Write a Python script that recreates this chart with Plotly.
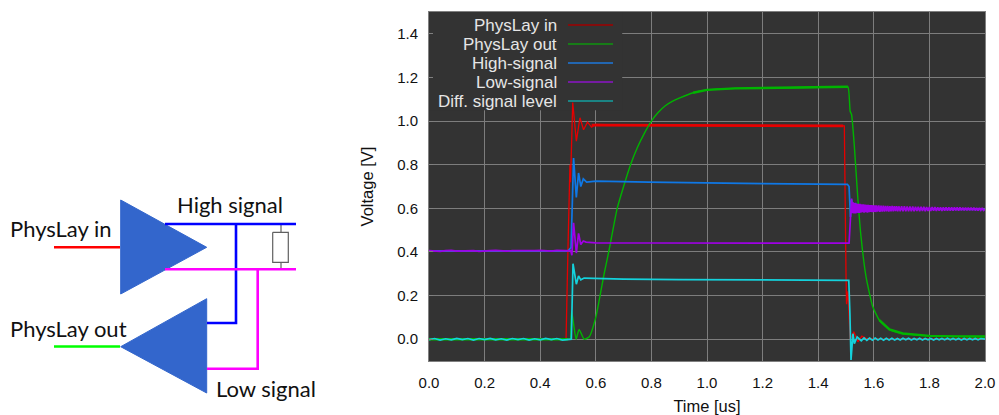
import plotly.graph_objects as go

W, H = 999, 415
PL, PR, PT, PB = 429, 985, 12, 361

# ---------- oscilloscope data (time in us, level in V) ----------
red_t = [0.0,0.1,0.2,0.3,0.4,0.49,0.493,0.50,0.505,0.507,0.509,0.512,0.517,0.53,0.543,0.556,0.57,0.585,
         0.6,0.7,0.8,0.9,1.0,1.1,1.2,1.3,1.4,1.49,1.494,1.50,1.502,1.507,1.515,1.528,1.543,1.557,1.575,1.62,1.8,2.0]
red_v = [0.0,0.0,0.0,0.0,0.0,0.0,0.0,0.42,0.72,0.80,0.72,0.85,1.085,0.908,1.015,0.96,0.995,0.972,
         0.985,0.981,0.98,0.98,0.98,0.979,0.979,0.979,0.978,0.978,0.978,0.30,0.16,0.22,0.0,0.034,-0.012,0.014,0.002,0.0,0.002,0.003]
red_band_t = [0.585,0.7,0.85,1.0,1.15,1.3,1.49]
red_band_v = [0.981,0.981,0.98,0.98,0.979,0.979,0.978]

green_t = [0.0,0.50,0.508,0.513,0.529,0.54,0.558,0.576,0.6,0.63,0.648,0.677,0.70,0.725,0.75,0.775,0.80,0.825,0.85,0.875,0.90,0.95,1.0,1.1,1.2,1.3,1.4,1.49,1.507,1.515,1.52,1.53,1.542,1.554,
           1.572,1.596,1.62,1.656,1.704,1.75,1.8,1.84,1.88,1.92,1.96,2.0]
green_v = [0.0,0.0,0.0,0.13,0.0,0.045,0.0,0.01,0.10,0.30,0.41,0.60,0.70,0.80,0.88,0.945,1.0,1.04,1.07,1.09,1.105,1.13,1.143,1.15,1.152,1.153,1.155,1.157,1.157,1.045,1.03,0.885,0.655,0.47,
           0.287,0.15,0.087,0.045,0.026,0.02,0.015,0.014,0.013,0.013,0.012,0.012]
green_flat_t = [0.0,0.25,0.50,None,0.95,1.0,1.1,1.2,1.3,1.4,1.507,None,1.62,1.656,1.704,1.75,1.8,1.9,2.0]
green_flat_v = [0.0,0.0,0.0,None,1.13,1.143,1.15,1.152,1.153,1.155,1.157,None,0.087,0.045,0.026,0.02,0.015,0.013,0.012]

blue_t = [0.0,0.25,0.50,0.511,0.52,0.53,0.538,0.546,0.555,0.567,0.6,0.79,1.0,1.2,1.4,1.505,1.511,1.516,1.52,1.527,1.534,1.541,1.548,1.555,1.562,1.57,1.58,1.6,1.7,1.8,2.0]
blue_v = [0.405,0.405,0.405,0.42,0.83,0.65,0.762,0.70,0.735,0.72,0.725,0.72,0.715,0.713,0.711,0.71,0.70,0.56,0.64,0.58,0.625,0.58,0.615,0.585,0.612,0.588,0.607,0.597,0.596,0.595,0.595]

purple_t = [0.0,0.02,0.04,0.06,0.08,0.10,0.12,0.14,0.16,0.18,0.20,0.22,0.24,0.26,0.28,0.30,0.32,0.34,0.36,0.38,0.40,0.42,0.44,0.46,0.48,0.51,0.514,0.52,0.53,0.538,0.546,0.555,0.565,0.6,0.8,1.0,1.2,1.4,1.508,1.511,1.52,
            1.523,1.526,1.529,1.532,1.535,1.538,1.541,1.544,1.547,1.55,1.553,1.556,1.559,1.562,1.565,1.568,1.571,1.574,1.577,1.58,1.583,1.586,1.589,1.592,1.595,1.598,1.601,1.604,1.607,1.61,1.614,1.618,1.622,1.626,1.63,1.634,1.638,1.642,1.646,1.65,1.654,1.658,1.662,1.666,1.67,1.674,1.678,1.682,1.686,1.69,1.695,1.70,1.705,1.71,1.715,1.72,1.725,1.73,1.735,1.74,1.745,1.75,1.755,1.76,1.765,1.77,1.775,1.78,1.785,1.79,1.795,
            1.80,1.805,1.81,1.815,1.82,1.825,1.83,1.835,1.84,1.845,1.85,1.855,1.86,1.865,1.87,1.875,1.88,1.885,1.89,1.895,1.90,1.905,1.91,1.915,1.92,1.925,1.93,1.935,1.94,1.945,1.95,1.955,1.96,1.965,1.97,1.975,1.98,1.985,1.99,1.995,2.0]
purple_v = [0.406,0.404,0.403,0.406,0.407,0.404,0.404,0.407,0.406,0.403,0.403,0.406,0.407,0.404,0.404,0.406,0.406,0.403,0.403,0.406,0.407,0.404,0.404,0.407,0.406,0.405,0.385,0.534,0.395,0.485,0.434,0.45,0.445,0.442,0.441,0.44,0.44,0.44,0.44,0.44,0.645,
            0.578,0.628,0.576,0.624,0.577,0.622,0.58,0.62,0.579,0.62,0.58,0.618,0.582,0.618,0.58,0.617,0.582,0.616,0.58,0.616,0.582,0.615,0.583,0.615,0.582,0.614,0.584,0.614,0.583,0.613,0.585,0.613,0.584,0.612,0.585,0.612,0.585,0.611,0.586,0.611,0.585,0.61,0.586,0.611,0.586,0.61,0.587,0.61,0.586,0.609,0.587,0.609,0.586,0.609,0.587,0.608,0.587,0.608,0.586,0.608,0.587,0.607,0.588,0.607,0.587,0.607,0.588,0.607,0.587,0.606,0.588,
            0.606,0.588,0.606,0.589,0.606,0.588,0.605,0.589,0.605,0.588,0.605,0.589,0.605,0.589,0.604,0.589,0.604,0.589,0.604,0.59,0.604,0.589,0.604,0.59,0.603,0.59,0.603,0.59,0.603,0.59,0.603,0.59,0.603,0.59,0.602,0.59,0.602,0.591,0.602,0.59,0.596]

cyan_t = [0.0,0.02,0.04,0.06,0.08,0.10,0.12,0.14,0.16,0.18,0.20,0.22,0.24,0.26,0.28,0.30,0.32,0.34,0.36,0.38,0.40,0.42,0.44,0.46,0.48,0.50,0.512,0.518,0.53,0.538,0.546,0.558,0.6,0.7,0.9,1.1,1.3,1.5,1.51,1.514,1.518,1.525,1.53,1.54,1.555,
          1.565,1.575,1.585,1.595,1.605,1.615,1.625,1.635,1.645,1.655,1.665,1.675,1.685,1.695,1.705,1.715,1.725,1.735,1.745,1.755,1.765,1.775,1.785,1.795,1.805,1.815,1.825,1.835,1.845,1.855,1.865,1.875,1.885,1.895,1.905,1.915,1.925,1.935,1.945,1.955,1.965,1.975,1.985,2.0]
cyan_v = [-0.002,0.003,-0.004,0.002,-0.003,0.004,-0.002,0.003,-0.004,0.003,-0.002,0.004,-0.003,0.002,-0.004,0.003,-0.002,0.003,-0.004,0.002,-0.003,0.004,-0.002,0.003,-0.004,0.0,0.0,0.346,0.252,0.29,0.272,0.28,0.278,0.275,0.273,0.272,0.271,0.27,0.27,0.12,-0.095,0.025,-0.02,0.01,-0.007,
          0.006,-0.005,0.005,-0.005,0.005,-0.004,0.004,-0.005,0.004,-0.004,0.004,-0.004,0.003,-0.004,0.004,-0.003,0.004,-0.004,0.003,-0.003,0.004,-0.004,0.003,-0.003,0.003,-0.004,0.003,-0.003,0.003,-0.003,0.004,-0.003,0.003,-0.003,0.003,-0.004,0.003,-0.003,0.003,-0.003,0.003,-0.003,0.003,0.0]

series_names = ["PhysLay in", "PhysLay out", "High-signal", "Low-signal", "Diff. signal level"]
series_colors = ["#e60000", "#00b400", "#0f78e6", "#a000e6", "#14d2dc"]
series_widths = [1.3, 1.4, 1.7, 1.7, 1.7]
key_colors = ["#a00000", "#0f960f", "#1e78dc", "#8c14c8", "#14a0a0"]
series_t = [red_t, green_t, blue_t, purple_t, cyan_t]
series_v = [red_v, green_v, blue_v, purple_v, cyan_v]

x_ticks = [0.0,0.2,0.4,0.6,0.8,1.0,1.2,1.4,1.6,1.8,2.0]
y_ticks = [0.0,0.2,0.4,0.6,0.8,1.0,1.2,1.4]

# ---------- schematic (drawn on a full-page pixel axis) ----------
amp_top_x, amp_top_y = [120.7,120.7,206.7,120.7], [200,294,247.3,200]
amp_bot_x, amp_bot_y = [206.7,206.7,120.7,206.7], [298.7,393,346.7,298.7]
red_wire_x, red_wire_y = [54,120], [247.3,247.3]
green_wire_x, green_wire_y = [54,120], [346.5,346.5]
blue_wire_x, blue_wire_y = [165,296,None,236,236,207], [224,224,None,224,323,323]
mag_wire_x, mag_wire_y = [165,296,None,257.7,257.7,207], [269.3,269.3,None,269.3,368.7,368.7]
res_x, res_y = [272.7,288.3,288.3,272.7,272.7], [232.3,232.3,262.3,262.3,232.3]
lead_x, lead_y = [281,281,None,281,281], [224,232,None,262,269]
schem_labels = [("High signal",175,204),("PhysLay in",8,228),("PhysLay out",8,328),("Low signal",214,388)]

legend_rows_y = [25,44,63,82,101]
legend_key_x = [568,613]
legend_text_x = 559

fig = go.Figure()
for n,c,w,t,v in zip(series_names,series_colors,series_widths,series_t,series_v):
    line = dict(color=c,width=w)
    if n == "PhysLay out":
        line.update(shape="spline",smoothing=0.5)
    fig.add_trace(go.Scatter(x=t,y=v,mode="lines",name=n,line=line,showlegend=False))
    if n == "PhysLay in":
        fig.add_trace(go.Scatter(x=red_band_t,y=red_band_v,mode="lines",line=dict(color=c,width=2.8),showlegend=False,hoverinfo="skip"))
    if n == "PhysLay out":
        fig.add_trace(go.Scatter(x=green_flat_t,y=green_flat_v,mode="lines",line=dict(color=c,width=2.4),showlegend=False,hoverinfo="skip"))

def over(x,y,**kw):
    fig.add_trace(go.Scatter(x=x,y=y,xaxis="x2",yaxis="y2",showlegend=False,hoverinfo="skip",**kw))

over(amp_top_x,amp_top_y,mode="lines",fill="toself",fillcolor="#3366cc",line=dict(color="#3366cc",width=1))
over(amp_bot_x,amp_bot_y,mode="lines",fill="toself",fillcolor="#3366cc",line=dict(color="#3366cc",width=1))
over(red_wire_x,red_wire_y,mode="lines",line=dict(color="#ff0000",width=2.6))
over(green_wire_x,green_wire_y,mode="lines",line=dict(color="#00ff00",width=2.6))
over(lead_x,lead_y,mode="lines",line=dict(color="#808080",width=1.5))
over(res_x,res_y,mode="lines",line=dict(color="#606060",width=1.2))
over(blue_wire_x,blue_wire_y,mode="lines",line=dict(color="#0000ff",width=2.6))
over(mag_wire_x,mag_wire_y,mode="lines",line=dict(color="#ff00ff",width=2.6))
for yy,c in zip(legend_rows_y,key_colors):
    over(legend_key_x,[yy,yy],mode="lines",line=dict(color=c,width=1.3))

ann = []
for txt,x,y in schem_labels:
    ann.append(dict(text=txt,x=x,y=y,xref="x2",yref="y2",xanchor="left",yanchor="middle",showarrow=False,
                    font=dict(family="Lato",size=22,color="#111111")))
for txt,y in zip(series_names,legend_rows_y):
    ann.append(dict(text=txt,x=legend_text_x,y=y,xref="x2",yref="y2",xanchor="right",yanchor="middle",showarrow=False,
                    font=dict(family="Liberation Sans",size=17,color="#e6e6e6")))

axis_common = dict(showgrid=True,gridcolor="#7d7d7d",gridwidth=1,zeroline=False,showline=True,linecolor="#808080",linewidth=1,
                   mirror=True,ticks="inside",ticklen=4,tickcolor="#808080",tickfont=dict(family="Liberation Sans",size=15,color="#111111"))
fig.update_layout(
    width=W,height=H,autosize=False,margin=dict(l=0,r=0,t=0,b=0,autoexpand=False),paper_bgcolor="white",plot_bgcolor="rgba(0,0,0,0)",showlegend=False,
    font=dict(family="Liberation Sans"),annotations=ann,
    xaxis=dict(domain=[PL/W,PR/W],range=[0,2],tickvals=x_ticks,ticktext=[f"{v:.1f}" for v in x_ticks],ticklabelstandoff=8,
               title=dict(text="Time [us]",font=dict(size=16.5,color="#111111"),standoff=12),**axis_common),
    yaxis=dict(domain=[(H-PB)/H,(H-PT)/H],range=[-0.1,1.5],tickvals=y_ticks,ticktext=[f"{v:.1f}" for v in y_ticks],ticklabelstandoff=7,
               title=dict(text="Voltage [V]",font=dict(size=16.5,color="#111111"),standoff=19),**axis_common),
    xaxis2=dict(domain=[0,1],range=[0,W],visible=False,anchor="y2"),
    yaxis2=dict(domain=[0,1],range=[H,0],visible=False,anchor="x2"),
    shapes=[dict(type="rect",xref="x",yref="y",x0=0,x1=2,y0=-0.1,y1=1.5,layer="below",fillcolor="#333333",line=dict(width=0)),
            dict(type="rect",xref="x",yref="y",x0=0,x1=0.695,y0=1.05,y1=1.5,layer="between",fillcolor="#333333",line=dict(width=0))],
)
fig.write_html("out.html",config=dict(displayModeBar=False),post_script="document.body.style.margin='0';document.documentElement.style.overflow='hidden';")
